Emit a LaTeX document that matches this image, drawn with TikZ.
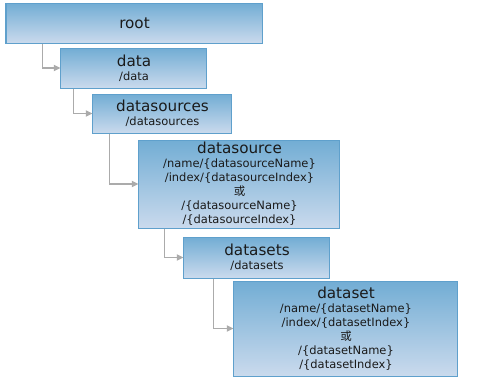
\documentclass[tikz,border=0pt]{standalone}
\usepackage{fontspec}
\setmainfont{DejaVu Sans}
\newfontfamily\cjk{Noto Sans CJK SC}
\usepackage{tikz}
\usetikzlibrary{arrows.meta, positioning, calc}
\definecolor{boxtop}{HTML}{72ADD4}
\definecolor{boxbot}{HTML}{CADAED}
\definecolor{boxline}{HTML}{5FA0CC}
\definecolor{linkgray}{HTML}{ABABAB}
\definecolor{txtdark}{HTML}{1A1A1A}
\newcommand{\ttl}[1]{{\fontsize{11.4}{10.5}\selectfont #1}}

\begin{document}
\begin{tikzpicture}[x=0.75pt, y=-0.75pt,
  font=\fontsize{8.6}{10.5}\selectfont,
  box/.style={draw=boxline, line width=0.75pt, top color=boxtop, bottom color=boxbot, inner sep=0pt, align=center, text=txtdark},
  link/.style={draw=linkgray, line width=1.4pt, -{Triangle[length=5pt, width=4.5pt]}}]
  \useasboundingbox (0,0) rectangle (480,380);
  \node[box, minimum width=192.75pt, minimum height=30pt] (root) at (134.5,23) {\ttl{root}};
  \node[box, minimum width=109.5pt, minimum height=30pt] (data) at (134,68) {\ttl{data}\\/data};
  \node[box, minimum width=104.25pt, minimum height=29.25pt] (dsrcs) at (162.5,113.5) {\ttl{datasources}\\/datasources};
  \node[box, minimum width=150.75pt, minimum height=66pt] (dsrc) at (239.5,184) {\ttl{datasource}\\/name/\{datasourceName\}\\/index/\{datasourceIndex\}\\{\cjk 或}\\/\{datasourceName\}\\/\{datasourceIndex\}};
  \node[box, minimum width=109.5pt, minimum height=30.75pt] (dsets) at (257,257.5) {\ttl{datasets}\\/datasets};
  \node[box, minimum width=168pt, minimum height=71.25pt] (dset) at (346,328.5) {\ttl{dataset}\\/name/\{datasetName\}\\/index/\{datasetIndex\}\\{\cjk 或}\\/\{datasetName\}\\/\{datasetIndex\}};
  % elbow links
  \draw[link] ([xshift=27.75pt]root.south west) |- (data.west);
  \draw[link] ([xshift=9.75pt]data.south west) |- (dsrcs.west);
  \draw[link] ([xshift=12.75pt]dsrcs.south west) |- (dsrc.west);
  \draw[link] ([xshift=19.5pt]dsrc.south west) |- (dsets.west);
  \draw[link] ([xshift=22.5pt]dsets.south west) |- (dset.west);
\end{tikzpicture}
\end{document}
